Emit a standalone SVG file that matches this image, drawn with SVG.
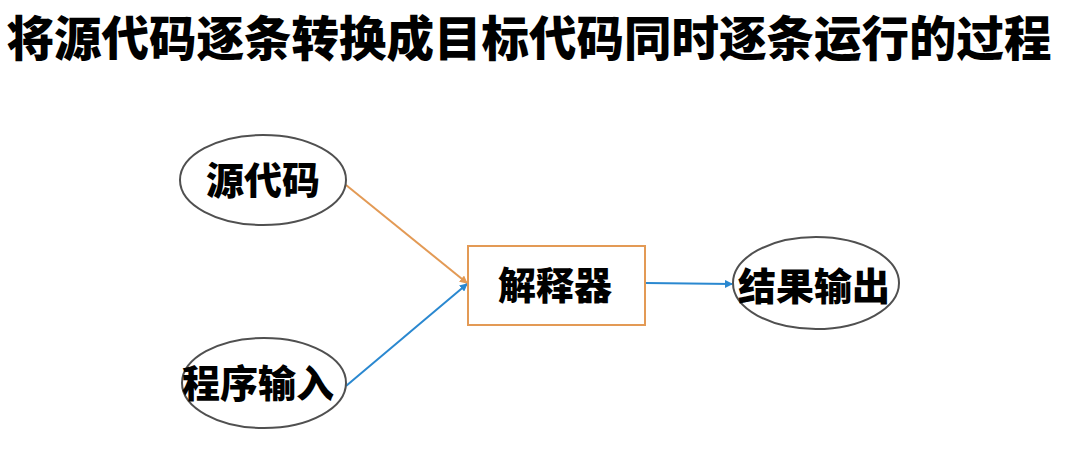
<svg xmlns="http://www.w3.org/2000/svg" width="1088" height="472" viewBox="0 0 1088 472">
<style>
.t{font-family:"Noto Sans CJK SC","Noto Sans",sans-serif;font-weight:900;fill:#000}
.n{font-size:38px;text-anchor:middle}
.e{fill:#fff;stroke:#505050;stroke-width:2}
.c{fill:none;stroke-width:2}
</style>
<defs>
<marker id="ao" markerWidth="8" markerHeight="8" refX="7" refY="4" orient="auto" markerUnits="userSpaceOnUse"><path d="M0,0 L8,4 L0,8 z" fill="#E39A55"/></marker>
<marker id="ab" markerWidth="8" markerHeight="8" refX="7" refY="4" orient="auto" markerUnits="userSpaceOnUse"><path d="M0,0 L8,4 L0,8 z" fill="#2A88D0"/></marker>
</defs>
<rect width="1088" height="472" fill="#fff"/>
<text class="t" x="529" y="56" font-size="47.5" text-anchor="middle">将源代码逐条转换成目标代码同时逐条运行的过程</text>
<g id="connectors">
<line class="c" x1="346" y1="185" x2="467" y2="283" stroke="#E39A55" marker-end="url(#ao)"/>
<line class="c" x1="346" y1="386" x2="467" y2="284" stroke="#2A88D0" marker-end="url(#ab)"/>
<line class="c" x1="646" y1="283" x2="732" y2="284" stroke="#2A88D0" marker-end="url(#ab)"/>
</g>
<g id="src">
<ellipse class="e" cx="263" cy="180" rx="83" ry="45"/>
<text class="t n" x="263" y="194">源代码</text>
</g>
<g id="input">
<ellipse class="e" cx="264" cy="383" rx="82" ry="45"/>
<text class="t n" x="258" y="397">程序输入</text>
</g>
<g id="interp">
<rect x="468" y="246" width="177" height="79" fill="#fff" stroke="#E39A55" stroke-width="2"/>
<text class="t n" x="555" y="299">解释器</text>
</g>
<g id="output">
<ellipse class="e" cx="816" cy="283" rx="83" ry="46"/>
<text class="t n" x="814" y="300">结果输出</text>
</g>
</svg>
